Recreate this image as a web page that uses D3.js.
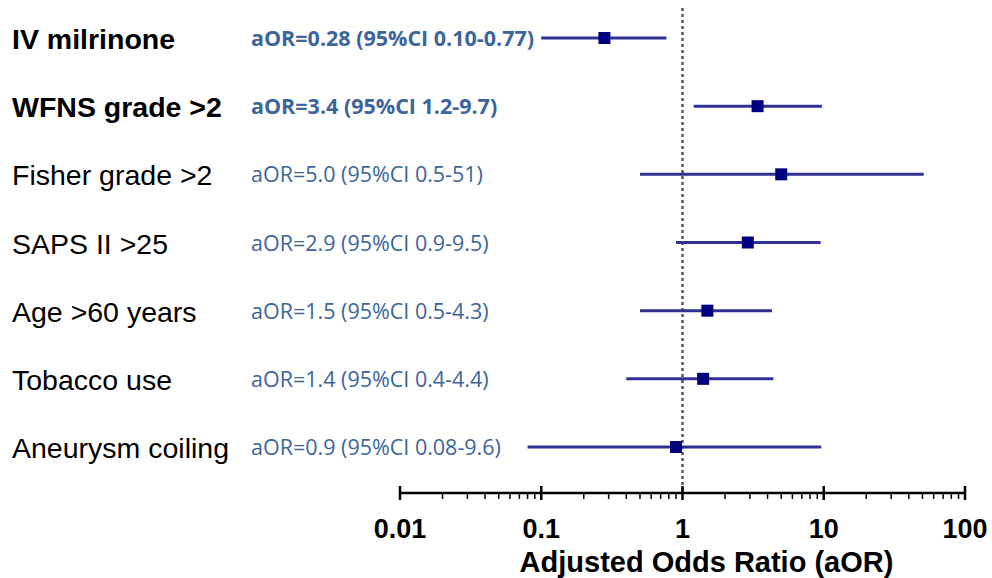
<!DOCTYPE html>
<html>
<head>
<meta charset="utf-8">
<script src="https://cdn.jsdelivr.net/npm/d3@7"></script>
<style>
  html, body { margin: 0; padding: 0; background: #fff; }
  svg { display: block; }
</style>
</head>
<body>
<div id="chart"></div>
<script>
// Rows, top to bottom
const factors = ['IV milrinone', 'WFNS grade >2', 'Fisher grade >2', 'SAPS II >25',
  'Age >60 years', 'Tobacco use', 'Aneurysm coiling'];
const estimates = [0.28, 3.4, 5.0, 2.9, 1.5, 1.4, 0.9];
const ciLow = [0.10, 1.2, 0.5, 0.9, 0.5, 0.4, 0.08];
const ciHigh = [0.77, 9.7, 51, 9.5, 4.3, 4.4, 9.6];
const ciText = ['aOR=0.28 (95%CI 0.10-0.77)', 'aOR=3.4 (95%CI 1.2-9.7)', 'aOR=5.0 (95%CI 0.5-51)',
  'aOR=2.9 (95%CI 0.9-9.5)', 'aOR=1.5 (95%CI 0.5-4.3)', 'aOR=1.4 (95%CI 0.4-4.4)',
  'aOR=0.9 (95%CI 0.08-9.6)'];
const significant = [true, true, false, false, false, false, false];
const majorTicks = [0.01, 0.1, 1, 10, 100];

const width = 992, height = 578;
const rows = factors.map((f, i) => ({
  factor: f, est: estimates[i], lo: ciLow[i], hi: ciHigh[i], text: ciText[i], bold: significant[i]
}));

const svg = d3.select('#chart').append('svg')
  .attr('width', width).attr('height', height);

const x = d3.scaleLog().domain([0.01, 100]).range([400, 965]);
const y = d3.scalePoint().domain(factors).range([38, 447]);
const axisY = 493;

// reference line at aOR = 1
svg.append('line')
  .attr('x1', x(1)).attr('x2', x(1))
  .attr('y1', 8).attr('y2', axisY)
  .attr('stroke', '#555').attr('stroke-width', 2.5)
  .attr('stroke-dasharray', '3,3');

// x axis: major ticks through the line, minor ticks below
const axisG = svg.append('g').attr('transform', `translate(0,${axisY})`);
axisG.append('line')
  .attr('x1', x(0.01)).attr('x2', x(100))
  .attr('stroke', '#000').attr('stroke-width', 2.5);

const minor = [];
for (let d = 0.01; d < 100; d *= 10) {
  for (let k = 2; k <= 9; k++) minor.push(d * k);
}
axisG.selectAll('line.minor').data(minor).join('line')
  .attr('class', 'minor')
  .attr('x1', d => x(d)).attr('x2', d => x(d))
  .attr('y1', 0).attr('y2', 6)
  .attr('stroke', '#000').attr('stroke-width', 1.5);

axisG.selectAll('line.major').data(majorTicks).join('line')
  .attr('class', 'major')
  .attr('x1', d => x(d)).attr('x2', d => x(d))
  .attr('y1', -7).attr('y2', 7)
  .attr('stroke', '#000').attr('stroke-width', 2.5);

axisG.selectAll('text.tick').data(majorTicks).join('text')
  .attr('class', 'tick')
  .attr('x', d => x(d)).attr('y', 45)
  .attr('text-anchor', 'middle')
  .attr('font-family', 'Liberation Sans, Arial, sans-serif')
  .attr('font-weight', 'bold').attr('font-size', 27)
  .text(d => d3.format('~g')(d));

svg.append('text')
  .attr('x', x(1) + 24).attr('y', 572)
  .attr('text-anchor', 'middle')
  .attr('font-family', 'Liberation Sans, Arial, sans-serif')
  .attr('font-weight', 'bold').attr('font-size', 29)
  .text('Adjusted Odds Ratio (aOR)');

// rows
const rowG = svg.selectAll('g.row').data(rows).join('g')
  .attr('class', 'row')
  .attr('transform', d => `translate(0,${y(d.factor)})`);

rowG.append('text')
  .attr('x', 12).attr('y', 11)
  .attr('font-family', 'Liberation Sans, Arial, sans-serif')
  .attr('font-size', 28.5)
  .attr('font-weight', d => d.bold ? 'bold' : 'normal')
  .attr('fill', '#000')
  .text(d => d.factor);

rowG.append('text')
  .attr('x', 251).attr('y', 8)
  .attr('font-family', 'Open Sans, sans-serif')
  .attr('font-size', 21.5)
  .attr('font-weight', d => d.bold ? 'bold' : 'normal')
  .attr('fill', '#3c659a')
  .text(d => d.text);

rowG.append('line')
  .attr('x1', d => x(d.lo)).attr('x2', d => x(d.hi))
  .attr('y1', 0).attr('y2', 0)
  .attr('stroke', '#2e3192').attr('stroke-width', 3);

rowG.append('rect')
  .attr('x', d => x(d.est) - 6).attr('y', -6)
  .attr('width', 12).attr('height', 12)
  .attr('fill', '#000080');
</script>
</body>
</html>
